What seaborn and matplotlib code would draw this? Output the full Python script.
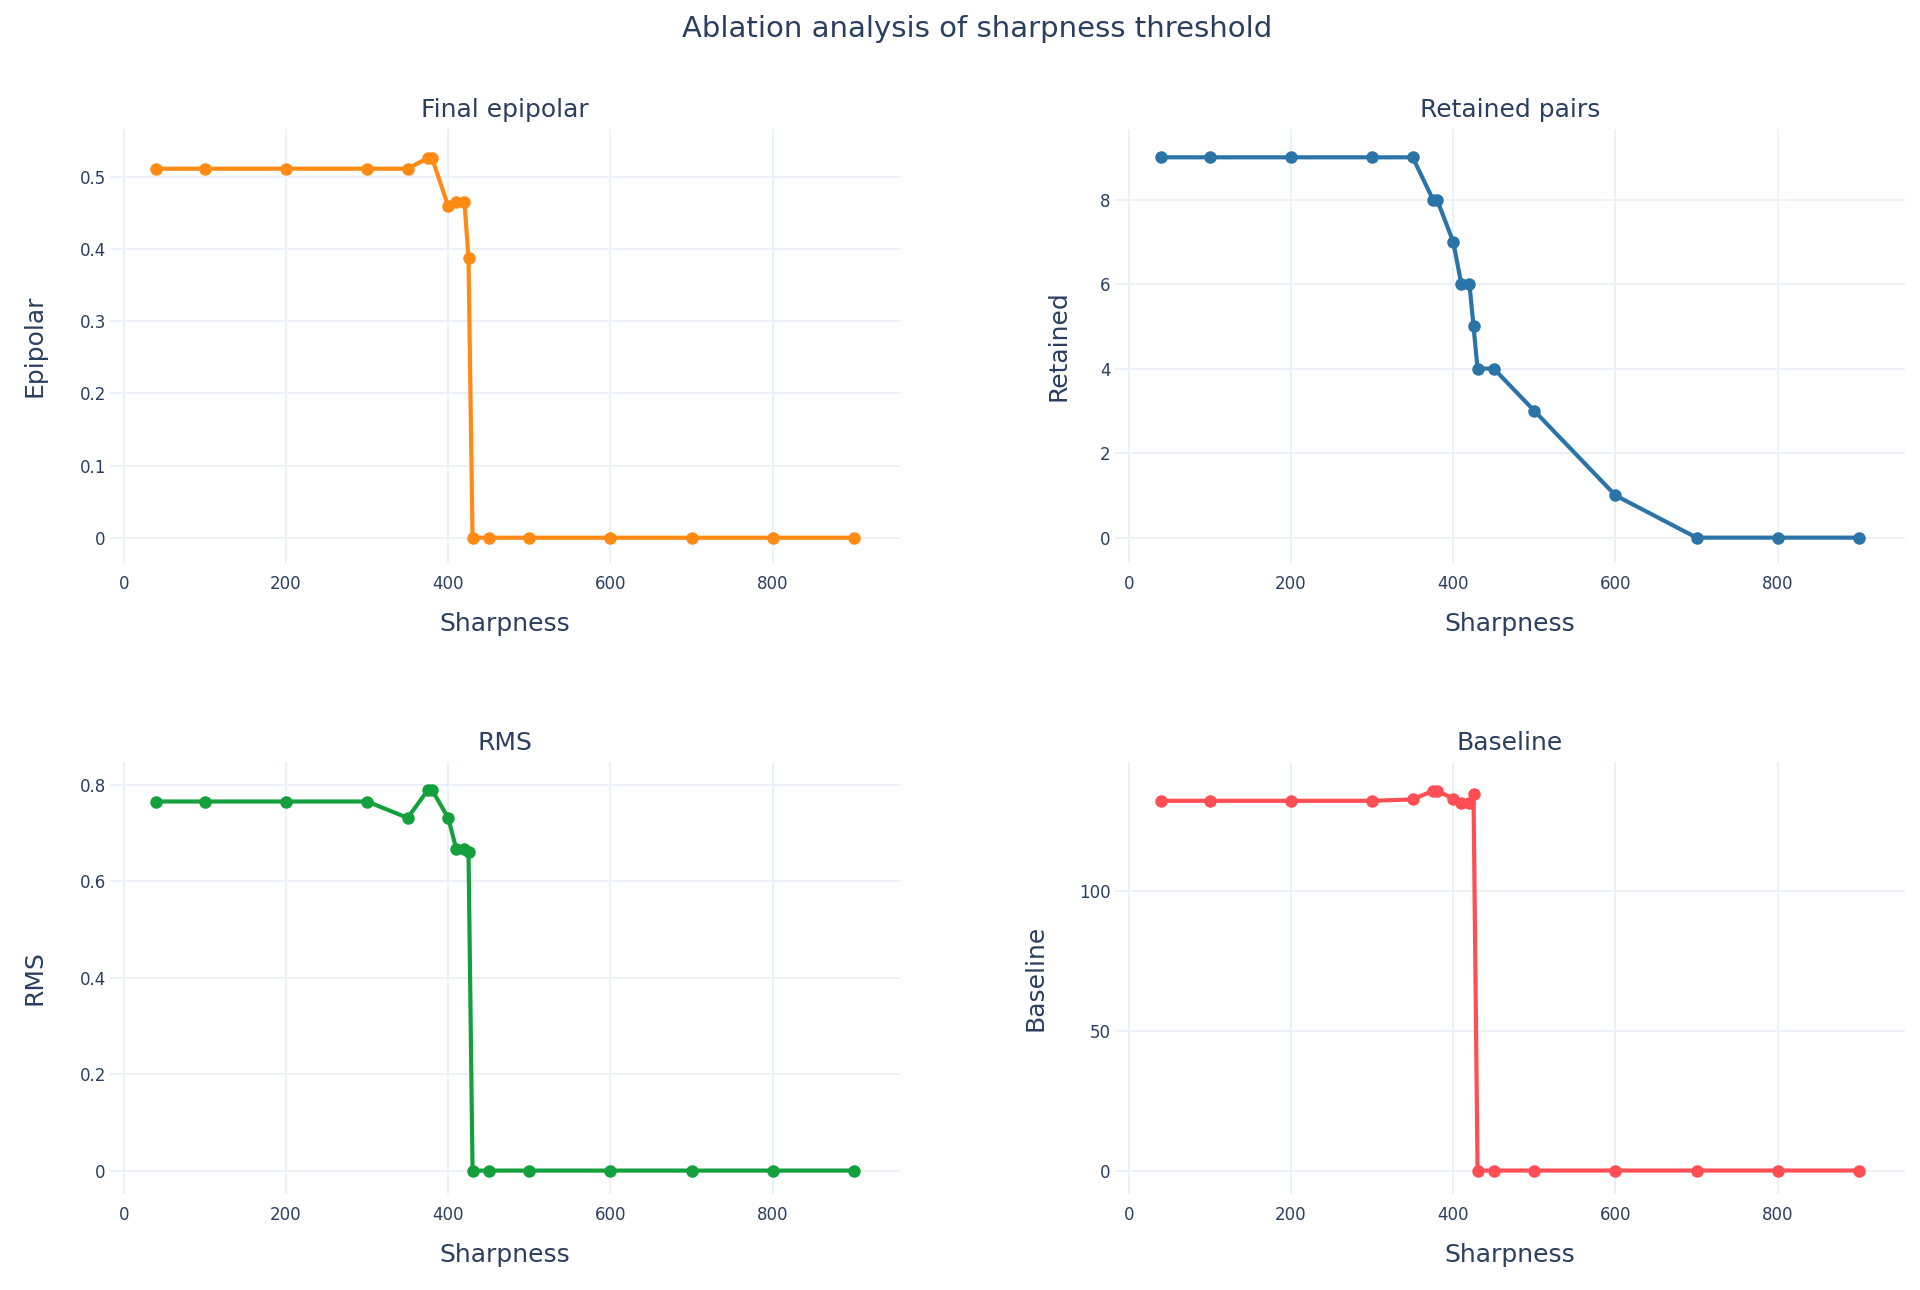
import matplotlib
matplotlib.use("Agg")
import matplotlib.pyplot as plt
import pandas as pd
import seaborn as sns

# ---------------- data ----------------
sharpness = [40, 100, 200, 300, 350, 375, 380, 400, 410, 420, 425, 430,
             450, 500, 600, 700, 800, 900]
epipolar = [0.511, 0.511, 0.511, 0.511, 0.511, 0.526, 0.526, 0.459, 0.465,
            0.465, 0.387, 0, 0, 0, 0, 0, 0, 0]
retained = [9, 9, 9, 9, 9, 8, 8, 7, 6, 6, 5, 4, 4, 3, 1, 0, 0, 0]
rms = [0.766, 0.766, 0.766, 0.766, 0.732, 0.790, 0.790, 0.732, 0.667,
       0.667, 0.661, 0, 0, 0, 0, 0, 0, 0]
baseline = [132.4, 132.4, 132.4, 132.4, 132.9, 136.0, 136.0, 133.2, 131.5,
            131.5, 135.0, 0, 0, 0, 0, 0, 0, 0]

panel_titles = ["Final epipolar", "Retained pairs", "RMS", "Baseline"]
y_labels = ["Epipolar", "Retained", "RMS", "Baseline"]
x_label = "Sharpness"
main_title = "Ablation analysis of sharpness threshold"
x_ticks = [0, 200, 400, 600, 800]
y_ticks = [[0, 0.1, 0.2, 0.3, 0.4, 0.5], [0, 2, 4, 6, 8],
           [0, 0.2, 0.4, 0.6, 0.8], [0, 50, 100]]

# ---------------- style ----------------
sns.set_theme(style="white")
plt.rcParams['font.family'] = ['DejaVu Sans']
TXT = '#2a3f5f'
GRID = '#EBF0F8'
colors = ['#ff8a14', '#2b74a8', '#14a03c', '#ff4f55']
series = [epipolar, retained, rms, baseline]
ylims = [(-0.035, 0.566), (-0.6, 9.67), (-0.0486, 0.848), (-8.4, 146.3)]
ylab_x = [-0.096, -0.071, -0.096, -0.101]

W, H = 1920, 1290
fig = plt.figure(figsize=(W / 100, H / 100), dpi=100)
fig.patch.set_facecolor('white')

# axes boxes in pixels: (left, right, top, bottom)
boxes = [(110, 900, 129, 563), (1115, 1905, 129, 563),
         (110, 900, 762, 1194), (1115, 1905, 762, 1194)]


def fmt(v):
    s = f"{v:g}"
    return s


for i in range(4):
    l, r, t, b = boxes[i]
    ax = fig.add_axes([l / W, 1 - b / H, (r - l) / W, (b - t) / H])
    ax.set_facecolor('white')
    df = pd.DataFrame({x_label: sharpness, y_labels[i]: series[i]})
    sns.lineplot(data=df, x=x_label, y=y_labels[i], ax=ax, color=colors[i],
                 linewidth=3.0, marker='o', markersize=9,
                 markeredgewidth=0, markeredgecolor=colors[i], zorder=3)
    ax.set_xlim(-17, 957)
    ax.set_ylim(*ylims[i])
    ax.set_xticks(x_ticks)
    ax.set_xticklabels([fmt(v) for v in x_ticks])
    ax.set_yticks(y_ticks[i])
    ax.set_yticklabels([fmt(v) for v in y_ticks[i]])
    ax.grid(True, color=GRID, linewidth=1.3, zorder=0)
    ax.set_axisbelow(True)
    for s in ax.spines.values():
        s.set_visible(False)
    ax.tick_params(axis='both', length=0, labelsize=12, labelcolor=TXT)
    ax.tick_params(axis='x', pad=9)
    ax.tick_params(axis='y', pad=3)
    ax.set_xlabel(x_label, fontsize=18, color=TXT, va='center')
    ax.xaxis.set_label_coords(0.5, -61 / (b - t))
    ax.set_ylabel(y_labels[i], fontsize=18, color=TXT, va='center')
    ax.yaxis.set_label_coords(ylab_x[i], 0.5)
    ax.text(0.5, 1 + 19 / (b - t), panel_titles[i], transform=ax.transAxes,
            ha='center', va='center', fontsize=18, color=TXT)

fig.text(977 / W, 1 - 29 / H, main_title, ha='center', va='center',
         fontsize=21, color=TXT)

fig.savefig('out.png', dpi=100, facecolor='white')
